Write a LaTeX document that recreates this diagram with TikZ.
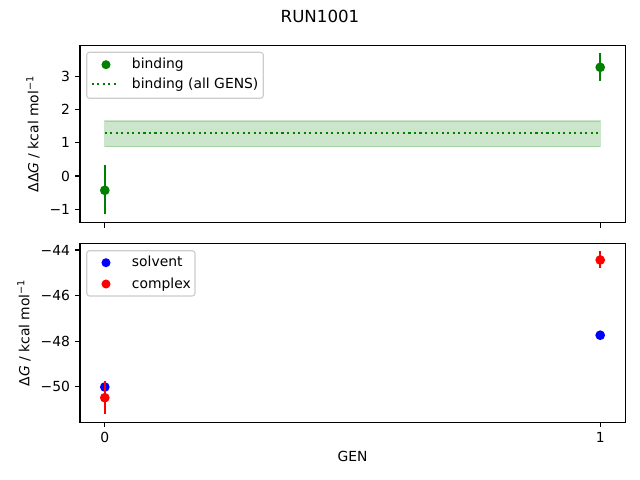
\documentclass[tikz,border=0pt]{standalone}
\usepackage{fontspec}
\setmainfont{DejaVu Sans}
\definecolor{mplgreen}{rgb}{0,0.5,0}
\definecolor{mplblue}{rgb}{0,0,1}
\definecolor{mplred}{rgb}{1,0,0}
\definecolor{legedge}{gray}{0.8}
\tikzset{
  axisframe/.style={line width=0.8pt, draw=black},
  tickmark/.style={line width=0.8pt, draw=black},
  ylab/.style={anchor=east, inner sep=0pt},
  xlab/.style={anchor=north, inner sep=0pt},
  errbar/.style={line width=1.5pt},
  dot/.style={circle, inner sep=0pt, minimum size=7pt, fill=#1, draw=none},
  legdot/.style={circle, inner sep=0pt, minimum size=6.5pt, fill=#1, draw=none},
  legbox/.style={draw=legedge, line width=0.8pt, fill=white, fill opacity=0.8, rounded corners=2pt},
  legtext/.style={anchor=base west, inner sep=0pt},
  meanline/.style={draw=mplgreen, line width=1.5pt, dash pattern=on 1.5pt off 2.475pt},
}
\begin{document}
\begin{tikzpicture}[x=0.72pt, y=-0.72pt, font=\fontsize{10}{12}\selectfont]
\useasboundingbox (0,0) rectangle (640,480);

% title
\node (title) at (320,16) {\fontsize{12}{14}\selectfont RUN1001};

% ---------- top axes ----------
\fill[mplgreen, opacity=0.2] (104.8,121) rectangle (600.2,146.7);
\draw[mplgreen, opacity=0.2, line width=1pt] (104.8,121) rectangle (600.2,146.7);
\draw[meanline] (104.8,132.7) -- (600.2,132.7);

\draw[errbar, mplgreen] (104.8,165) -- (104.8,214.3);
\node[dot=mplgreen] (b0) at (104.8,190.3) {};
\draw[errbar, mplgreen] (600.2,53.3) -- (600.2,80.7);
\node[dot=mplgreen] (b1) at (600.2,67.3) {};

\draw[axisframe] (80,45.3) rectangle (625.3,222.7);

\foreach \y in {209.2, 176, 142.8, 109.6, 76.4} {
  \draw[tickmark] (80,\y) -- (75.1,\y);
}
\node[ylab] (ty-1) at (70.3,209.2) {−1};
\node[ylab] (ty0) at (70.3,176) {0};
\node[ylab] (ty1) at (70.3,142.8) {1};
\node[ylab] (ty2) at (70.3,109.6) {2};
\node[ylab] (ty3) at (70.3,76.4) {3};
\draw[tickmark] (104.8,222.7) -- (104.8,227.6);
\draw[tickmark] (600.2,222.7) -- (600.2,227.6);

\node[rotate=90, inner sep=0pt] (ylabtop) at (33,134) {ΔΔ\textit{G} / kcal mol\textsuperscript{−1}};

% legend top
\draw[legbox] (86.7,52.3) rectangle (263.3,98.3);
\node[legdot=mplgreen] (legb) at (106,64.7) {};
\node[legtext] (legbt) at (131.7,68.8) {binding};
\draw[meanline] (91.7,84) -- (119.3,84);
\node[legtext] (legmt) at (131.7,88.2) {binding (all GENS)};

% ---------- bottom axes ----------
\node[dot=mplblue] (s0) at (104.8,387) {};
\node[dot=mplblue] (s1) at (600.2,335.2) {};
\draw[errbar, mplred] (104.8,381) -- (104.8,413.7);
\node[dot=mplred] (c0) at (104.8,397.7) {};
\draw[errbar, mplred] (600.2,251) -- (600.2,267.7);
\node[dot=mplred] (c1) at (600.2,260) {};

\draw[axisframe] (80,243.3) rectangle (625.3,422.3);

\foreach \y in {250, 295.6, 341.1, 386.7} {
  \draw[tickmark] (80,\y) -- (75.1,\y);
}
\node[ylab] (by44) at (70.3,250) {−44};
\node[ylab] (by46) at (70.3,295.6) {−46};
\node[ylab] (by48) at (70.3,341.1) {−48};
\node[ylab] (by50) at (70.3,386.7) {−50};

\draw[tickmark] (104.8,422.3) -- (104.8,427.2);
\draw[tickmark] (600.2,422.3) -- (600.2,427.2);
\node[xlab] (bx0) at (104.8,432) {0};
\node[xlab] (bx1) at (600.2,432) {1};

\node (xlabel) at (352.6,456.5) {GEN};
\node[rotate=90, inner sep=0pt] (ylabbot) at (24,332.8) {Δ\textit{G} / kcal mol\textsuperscript{−1}};

% legend bottom
\draw[legbox] (86.7,250.7) rectangle (195,296);
\node[legdot=mplblue] (legs) at (106,262.7) {};
\node[legtext] (legst) at (131.7,266.8) {solvent};
\node[legdot=mplred] (legc) at (106,284) {};
\node[legtext] (legct) at (131.7,288.1) {complex};
\end{tikzpicture}
\end{document}
